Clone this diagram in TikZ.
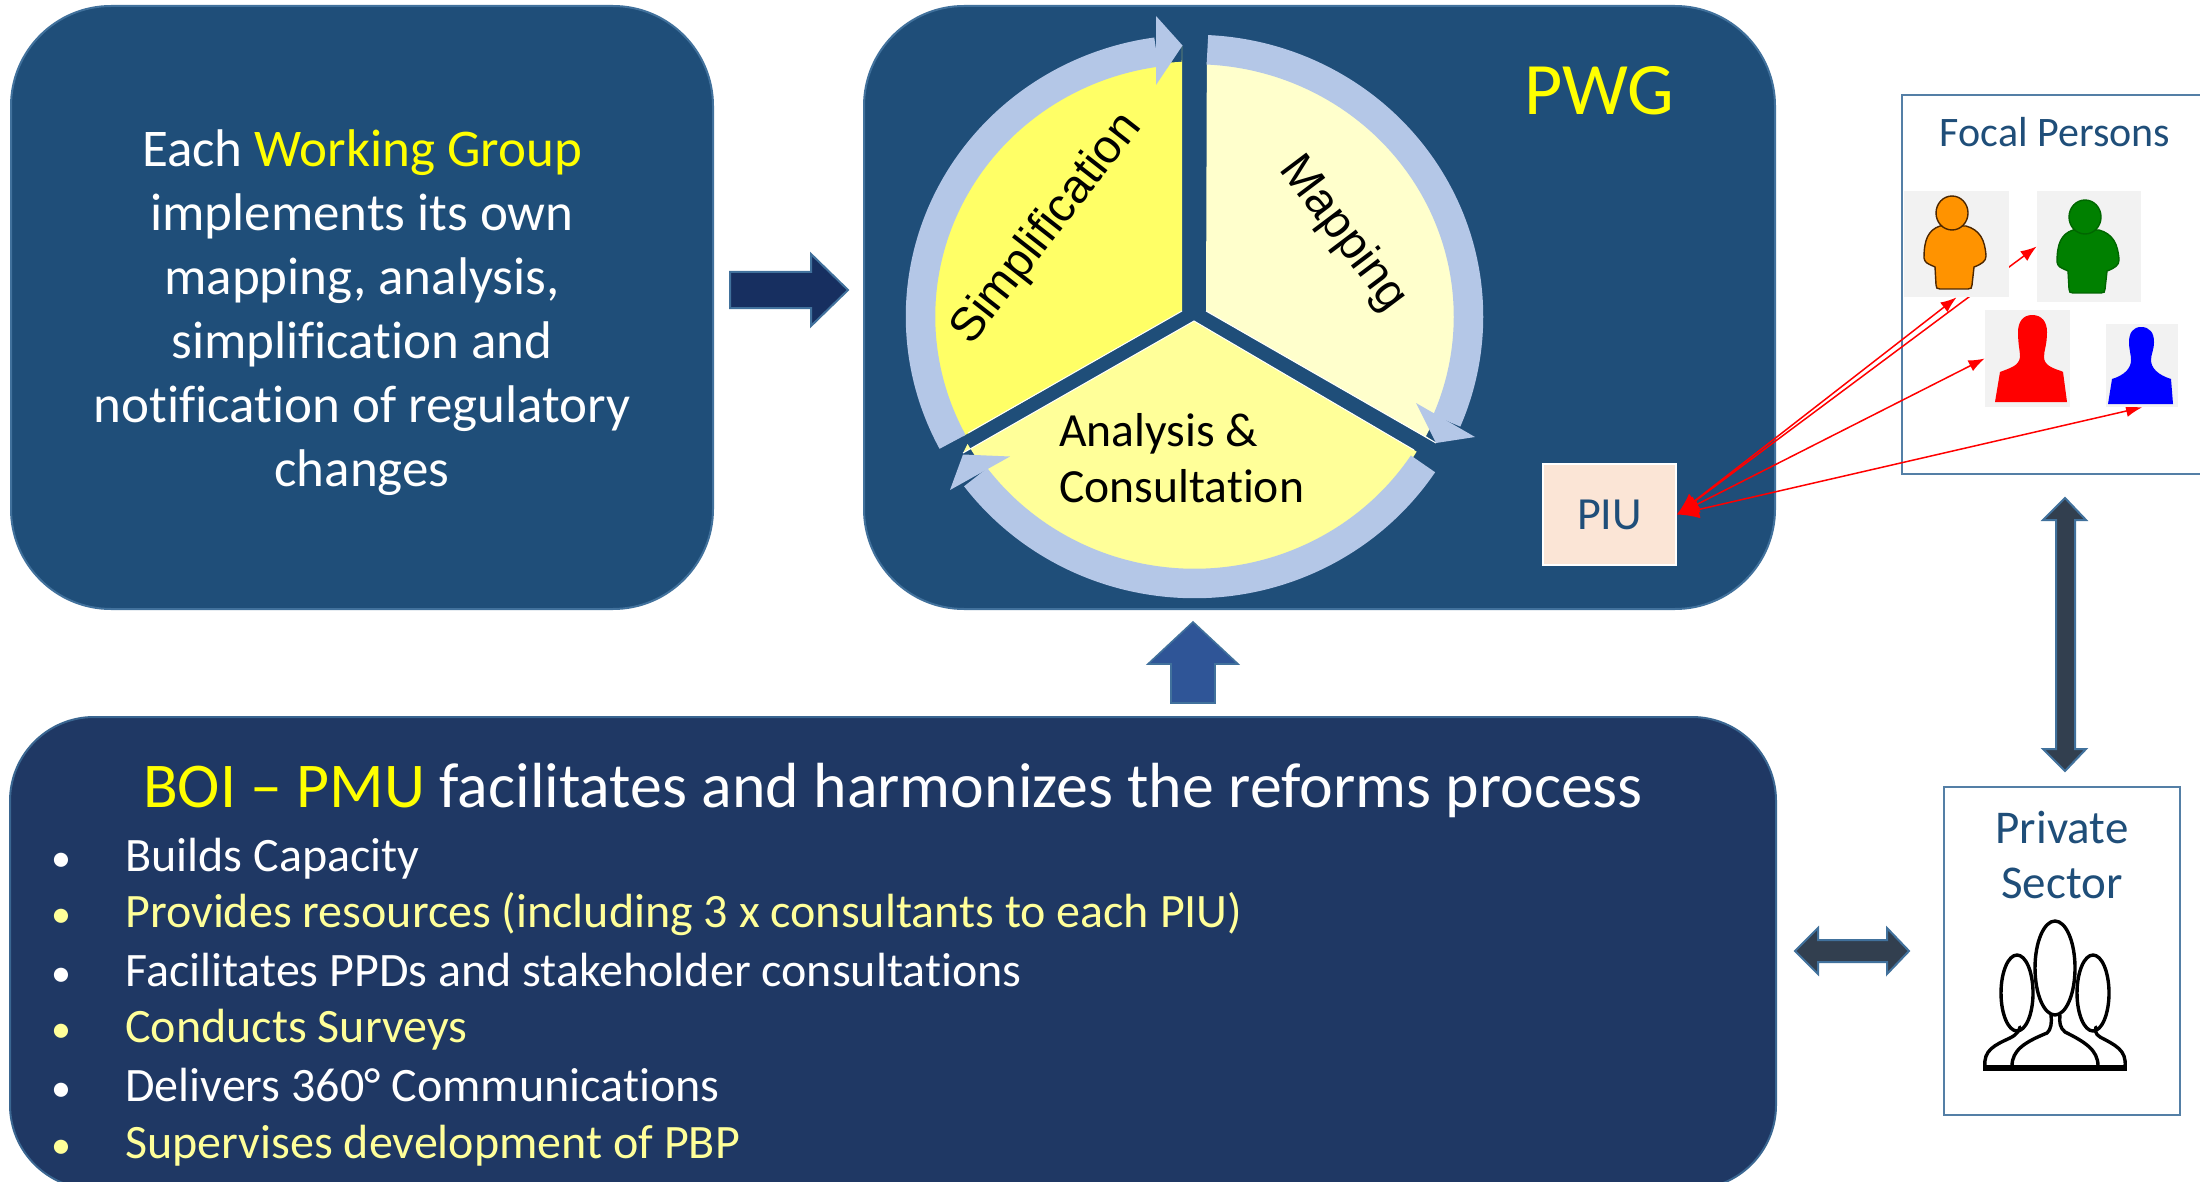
\documentclass[tikz,border=0pt]{standalone}
\usepackage{fontspec}
\setmainfont{Carlito}[Ligatures=NoCommon]
\newfontfamily\arialf{Liberation Sans}
\usetikzlibrary{arrows.meta}
\pgfdeclarelayer{back}
\pgfdeclarelayer{mid}
\pgfsetlayers{back,mid,main}
\definecolor{boxblue}{HTML}{1F4E79}
\definecolor{boxedge}{HTML}{41719C}
\definecolor{navy}{HTML}{1F3864}
\definecolor{deepnavy}{HTML}{172F60}
\definecolor{ringc}{HTML}{B4C7E7}
\definecolor{slate}{HTML}{323F4F}
\definecolor{lightyel}{HTML}{FFFF99}
\definecolor{midyel}{HTML}{FFFF66}
\definecolor{paleyel}{HTML}{FFFFCC}
\definecolor{pureyel}{HTML}{FFFF00}
\definecolor{piufill}{HTML}{FBE5D6}
\definecolor{arrowblue}{HTML}{2F5597}
\tikzset{
  panel/.style={draw=boxedge,line width=1pt,fill=boxblue,rounded corners=50pt,inner sep=0pt,text=white,align=center},
  frame/.style={draw=boxedge!90!white,line width=1.3pt,fill=white,inner sep=0pt},
  ring/.style={draw=ringc,line width=14.75pt,line cap=butt},
  head/.style={fill=ringc},
  bigarrow/.style={draw=boxedge,line width=1pt,fill=slate,line join=miter},
  rarrow/.style={draw=red,line width=.75pt,{Latex[length=11pt,width=9pt]}-{Latex[length=8pt,width=6pt]}},
  photo/.style={fill=black!5,inner sep=0pt},
  bul/.style={anchor=base,inner sep=0pt,font=\fontsize{20}{24}\selectfont},
  item/.style={anchor=base west,inner sep=0pt,font=\fontsize{24}{29}\selectfont},
  icon/.style={draw=black,line width=1.7pt,line cap=round,line join=round},
}
\newcommand{\personA}[4]{%
  \begin{scope}[shift={(#1,#2)}]
  \filldraw[fill=#3,draw=#4,line width=.7pt]
    (1940,226) .. controls (1928,230) and (1924,240) .. (1924,258)
    -- (1925,261) .. controls (1927,264) and (1931,265) .. (1935,267)
    -- (1936,285) .. controls (1936,288) and (1937,289) .. (1940,289)
    -- (1968,289) .. controls (1971,289) and (1972,288) .. (1972,285)
    -- (1974,267) .. controls (1982,264) and (1986,261) .. (1986,256)
    .. controls (1985,240) and (1980,230) .. (1966,226) -- cycle;
  \filldraw[fill=#3,draw=#4,line width=.7pt] (1952,213) ellipse [x radius=16,y radius=17];
  \end{scope}}
\begin{document}
\begin{tikzpicture}[x=0.5pt,y=-0.5pt]
\useasboundingbox (0,0) rectangle (2200,1182);
\clip (0,0) rectangle (2200,1182);
\begin{pgfonlayer}{back}
\fill[white] (0,0) rectangle (2200,1182);
% panels
\node[panel,minimum width=351pt,minimum height=301.5pt] (wg) at (362,307.5) {};
\node[text=white,align=center,font=\fontsize{26.5}{32}\selectfont] (wgt) at (362,313)
 {Each {\color{pureyel}Working Group}\\implements its own\\mapping, analysis,\\simplification and\\notification of regulatory\\changes};
\node[panel,minimum width=455.5pt,minimum height=301.5pt] (pwg) at (1319.5,307.5) {};
\node[panel,draw=boxedge!80!navy,fill=navy,minimum width=883pt,minimum height=236pt,rounded corners=42pt] (boi) at (893,953) {};
\node[text=pureyel,font=\fontsize{37}{44}\selectfont] (pwgt) at (1599,91) {PWG};
% pie
\coordinate (c) at (1194.5,316.5);
\fill[fill=midyel] (1182,311) -- ([shift={(c)}]152:262 and 255) arc[start angle=152,end angle=267.2,x radius=262,y radius=255] -- (1182,46) -- cycle;
\fill[fill=paleyel] (1206,311) -- ([shift={(c)}]272.7:262 and 255) arc[start angle=272.7,end angle=388,x radius=262,y radius=255] -- (1436,443) -- cycle;
\fill[fill=lightyel] (1194,321) -- ([shift={(c)}]32:262 and 255) arc[start angle=32,end angle=150,x radius=262,y radius=255] -- (963,453) -- cycle;
\draw[white,line width=.5pt] (963,453) -- (1194,321) -- (1414,450);
\draw[white,line width=.5pt] (968,433) -- (1182,311);
\draw[white,line width=.5pt] (1206,311) -- (1436,443);
% ring
\draw[ring] ([shift={(c)}]152:274 and 267) arc[start angle=152,end angle=262,x radius=274,y radius=267];
\fill[head] (1156,16) -- (1182.5,45.5) -- (1156,85) -- cycle;
\draw[ring] ([shift={(c)}]272.7:274 and 267) arc[start angle=272.7,end angle=383,x radius=274,y radius=267];
\fill[head] (1416,403) -- (1436,443) -- (1475,437) -- cycle;
\draw[ring] ([shift={(c)}]33.5:274 and 267) arc[start angle=33.5,end angle=143,x radius=274,y radius=267];
\fill[head] (1010,456.5) -- (963,454.5) -- (950,490) -- cycle;
% pie labels
\node[rotate=52,font=\arialf\fontsize{23.6}{28}\selectfont] (simp) at (1047,229) {Simplification};
\node[rotate=-53,font=\arialf\fontsize{23.6}{28}\selectfont] (map) at (1343,234) {Mapping};
\node[anchor=base west,inner sep=0pt,font=\fontsize{23.8}{29}\selectfont] (an) at (1059,446) {Analysis \&};
\node[anchor=base west,inner sep=0pt,font=\fontsize{23.8}{29}\selectfont] (con) at (1059,502) {Consultation};
% PIU
\node[draw=white,line width=1pt,fill=piufill,minimum width=66.5pt,minimum height=50.5pt,inner sep=0pt,text=boxblue,font=\fontsize{23}{28}\selectfont] (piu) at (1609.5,514.5) {PIU};
% frames
\node[frame,minimum width=200pt,minimum height=189.5pt] (focal) at (2102,284.5) {};
\node[text=boxblue,font=\fontsize{21}{25}\selectfont] (focalt) at (2055,132) {Focal Persons};
\node[frame,minimum width=118pt,minimum height=164pt] (priv) at (2062,951) {};
\node[text=boxblue,align=center,font=\fontsize{23.5}{27.5}\selectfont] (privt) at (2062,855) {Private\\Sector};
% block arrows
\filldraw[draw=boxedge,line width=1pt,fill=deepnavy,line join=miter] (730,272) -- (811,272) -- (811,254) -- (848,290) -- (811,326) -- (811,308) -- (730,308) -- cycle;
\filldraw[draw=boxedge,line width=.8pt,fill=arrowblue] (1171,703) -- (1171,664) -- (1148,664) -- (1193,622) -- (1238,664) -- (1215,664) -- (1215,703) -- cycle;
\filldraw[bigarrow] (2065,498) -- (2086,520) -- (2075,520) -- (2075,749) -- (2086,749) -- (2065,771) -- (2043,749) -- (2056,749) -- (2056,520) -- (2043,520) -- cycle;
\filldraw[bigarrow] (1795,951) -- (1818,928) -- (1818,940) -- (1887,940) -- (1887,928) -- (1909,951) -- (1887,974) -- (1887,962) -- (1818,962) -- (1818,974) -- cycle;
% BOI text
\node[anchor=base,text=white,font=\fontsize{31.9}{38}\selectfont] (boit) at (893,807) {{\color{pureyel}BOI – PMU} facilitates and harmonizes the reforms process};
\foreach \yy/\cc/\ttx in {871/white/Builds Capacity,
   927/lightyel/Provides resources (including 3 x consultants to each PIU),
   986/white/Facilitates PPDs and stakeholder consultations,
   1042/lightyel/Conducts Surveys,
   1101/white/Delivers 360° Communications,
   1158/lightyel/Supervises development of PBP}{
  \node[bul,text=\cc] at (61,\yy) {•};
  \node[item,text=\cc] at (125,\yy) {\ttx};
}
% group icon
\draw[icon,fill=white] (2017,993) ellipse [x radius=16,y radius=38];
\draw[icon,fill=white] (2093,993) ellipse [x radius=16,y radius=38];
\draw[icon,fill=white] (2055,968) ellipse [x radius=20,y radius=47];
\draw[icon] (1985,1067) .. controls (1983,1050) and (1995,1045) .. (2010,1038) .. controls (2018,1034) and (2019,1030) .. (2020,1027);
\draw[icon] (2012,1066) .. controls (2012,1050) and (2025,1042) .. (2047,1033) .. controls (2051,1030) and (2052,1022) .. (2051,1015);
\draw[icon] (2098,1066) .. controls (2098,1050) and (2085,1042) .. (2065,1032) .. controls (2060,1028) and (2059,1022) .. (2060,1015);
\draw[icon] (2125,1067) .. controls (2127,1050) and (2115,1045) .. (2100,1037) .. controls (2095,1034) and (2095,1030) .. (2096,1027);
\draw[black,line width=3pt] (1983,1068) -- (2127,1068);
\end{pgfonlayer}
% photos
\node[photo,minimum width=52.5pt,minimum height=53pt] (orange) at (1956.5,244) {};
\node[photo,minimum width=52pt,minimum height=55.5pt] (green) at (2089,246.5) {};
\node[photo,minimum width=42.5pt,minimum height=48.5pt] (redp) at (2027.5,358.5) {};
\node[photo,minimum width=36pt,minimum height=41.5pt] (bluep) at (2142,365.5) {};
\personA{0}{0}{orange!85!yellow}{black!70!orange}
\personA{133}{4}{green!50!black}{black!60!green}
\fill[red] (2032,315) .. controls (2042,315) and (2047,322) .. (2047,332) .. controls (2047,345) and (2044,350) .. (2044,357) .. controls (2044,365) and (2052,368) .. (2061,371) -- (2063,372) -- (2067,402) -- (1995,402) -- (2000,372) .. controls (2010,368) and (2019,366) .. (2020,357) .. controls (2020,350) and (2018,345) .. (2018,332) .. controls (2018,322) and (2023,315) .. (2032,315) -- cycle;
\fill[blue] (2141,327) .. controls (2150,327) and (2154,333) .. (2154,342) .. controls (2154,350) and (2151,354) .. (2151,360) .. controls (2151,368) and (2158,375) .. (2171,379) -- (2173,404) -- (2108,404) -- (2112,379) .. controls (2125,375) and (2131,368) .. (2131,360) .. controls (2131,354) and (2129,350) .. (2129,342) .. controls (2129,333) and (2133,327) .. (2141,327) -- cycle;
\begin{pgfonlayer}{mid}
\draw[rarrow] (piu.east) -- (orange.south);
\draw[rarrow] (piu.east) -- (green.west);
\draw[rarrow] (piu.east) -- (redp.west);
\draw[rarrow] (piu.east) -- (bluep.south);
\end{pgfonlayer}
\end{tikzpicture}
\end{document}
